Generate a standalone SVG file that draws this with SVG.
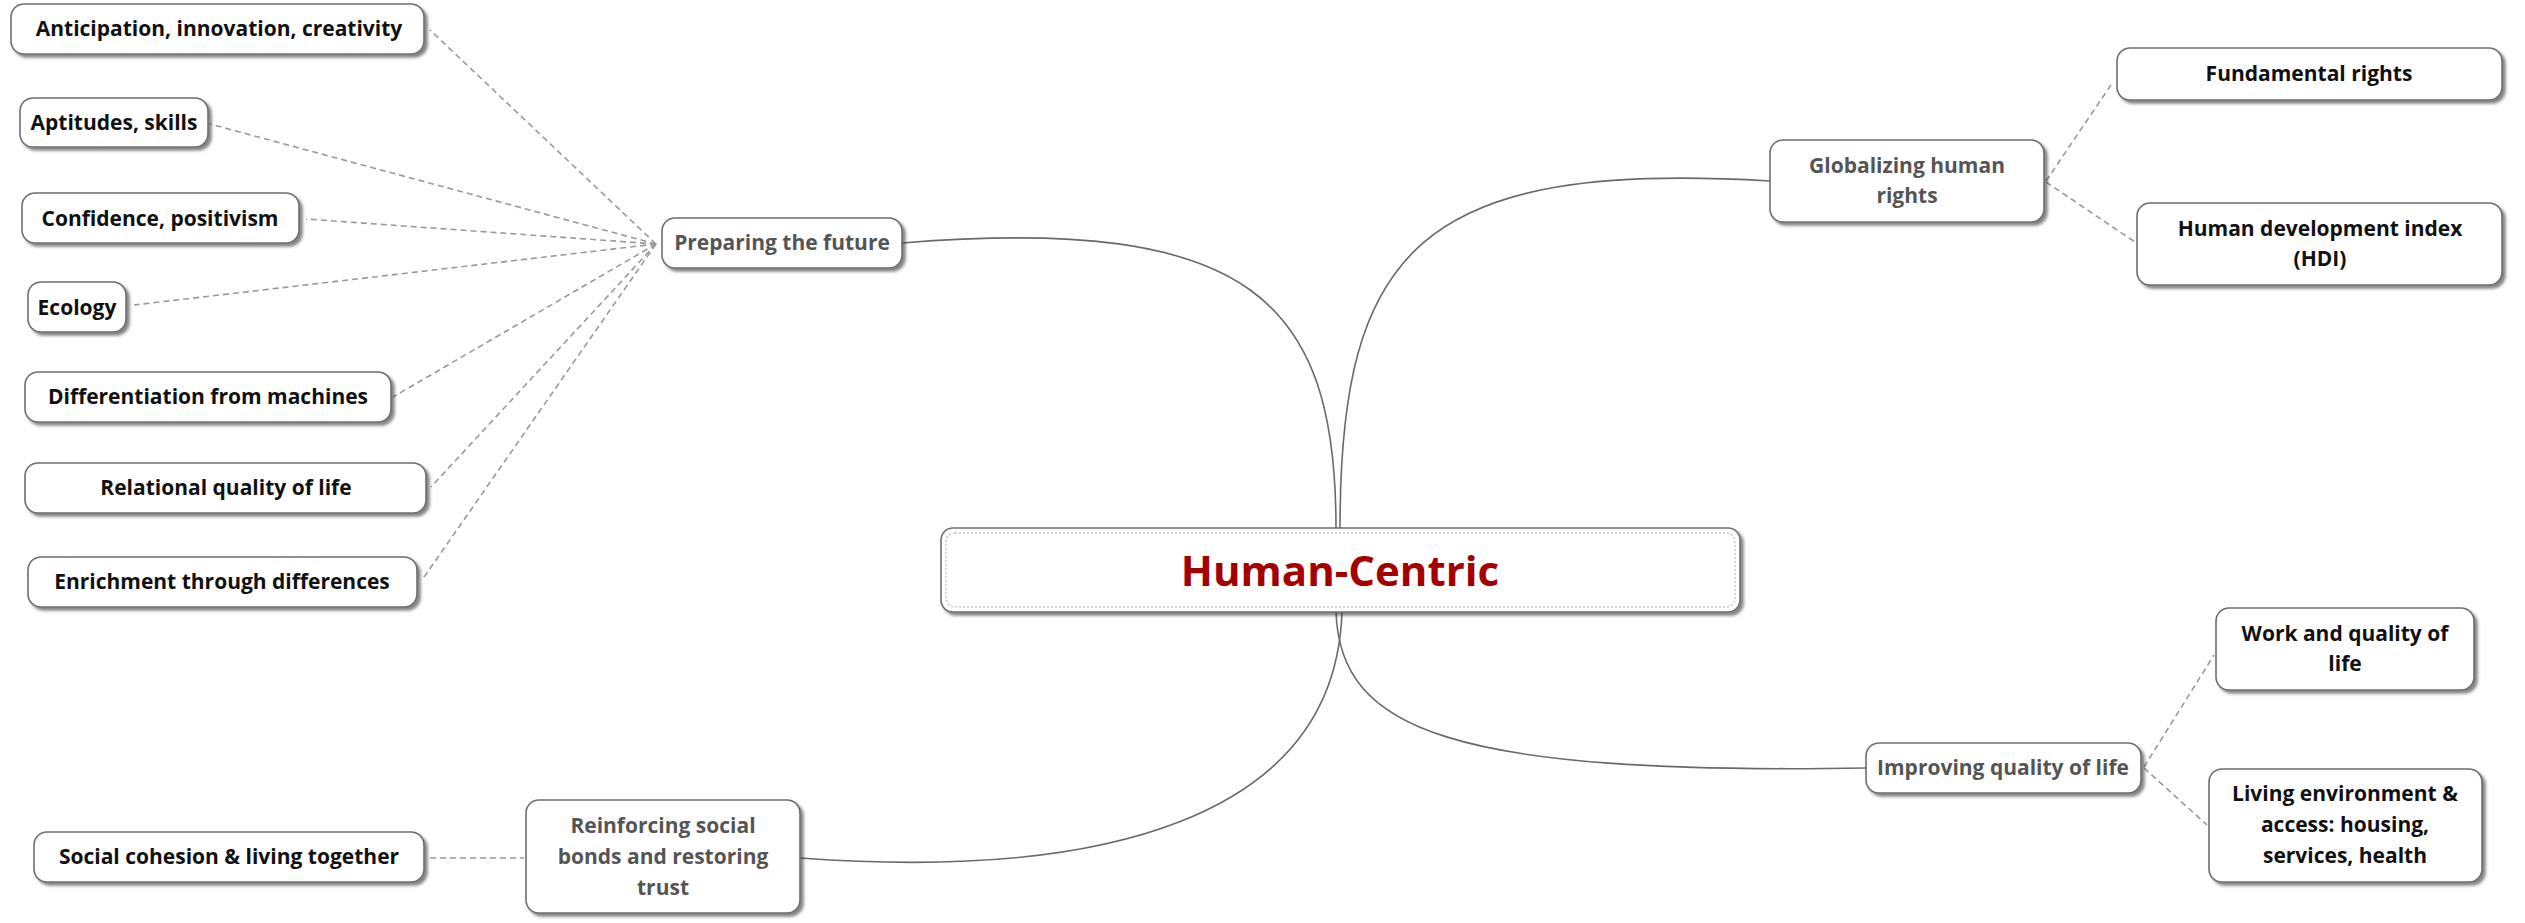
<svg xmlns="http://www.w3.org/2000/svg" width="2525" height="923" viewBox="0 0 2525 923">
<defs>
<filter id="sh" x="-10%" y="-20%" width="120%" height="150%">
<feDropShadow dx="3" dy="3" stdDeviation="1.5" flood-color="#333" flood-opacity="0.6"/>
</filter>
<style>
.box{fill:#fff;stroke:#6e6e6e;stroke-width:1.6;filter:url(#sh)}
.t{font-family:"Open Sans","Noto Sans","DejaVu Sans",sans-serif;font-weight:bold;font-size:21px;text-anchor:middle}
.leaf{fill:#111}
.mid{fill:#555}
.main{fill:none;stroke:#6a6a6a;stroke-width:1.6}
.dash{fill:none;stroke:#999;stroke-width:1.6;stroke-dasharray:6 4}
</style>
</defs>
<rect width="2525" height="923" fill="#fff"/>
<g id="connectors">
<path class="main" d="M902 243 C1250 215 1336 300 1336 528"/>
<path class="main" d="M1340 528 C1340 250 1420 160 1770 181"/>
<path class="main" d="M1336 612 C1340 730 1450 775 1866 768"/>
<path class="main" d="M1342 612 C1335 820 1100 880 800 858"/>
<path class="dash" d="M656 244 L430 30"/>
<path class="dash" d="M656 244 L210 124"/>
<path class="dash" d="M656 244 L306 219"/>
<path class="dash" d="M656 244 L134 305"/>
<path class="dash" d="M656 244 L393 397"/>
<path class="dash" d="M656 244 L431 487"/>
<path class="dash" d="M656 244 L422 580"/>
<path class="dash" d="M2046 181 L2113 82"/>
<path class="dash" d="M2046 182 L2135 242"/>
<path class="dash" d="M2144 767 L2214 655"/>
<path class="dash" d="M2144 768 L2207 825"/>
<path class="dash" d="M430 858 L524 858"/>
</g>
<g id="n-anticipation"><rect class="box" x="11" y="4" width="413" height="50" rx="13"/><text class="t leaf" x="219" y="36">Anticipation, innovation, creativity</text></g>
<g id="n-aptitudes"><rect class="box" x="20" y="98" width="188" height="49" rx="13"/><text class="t leaf" x="114" y="130">Aptitudes, skills</text></g>
<g id="n-confidence"><rect class="box" x="22" y="193" width="277" height="50" rx="13"/><text class="t leaf" x="160" y="226">Confidence, positivism</text></g>
<g id="n-ecology"><rect class="box" x="28" y="282" width="98" height="50" rx="13"/><text class="t leaf" x="77" y="315">Ecology</text></g>
<g id="n-differentiation"><rect class="box" x="25" y="372" width="366" height="50" rx="13"/><text class="t leaf" x="208" y="404">Differentiation from machines</text></g>
<g id="n-relational"><rect class="box" x="25" y="463" width="401" height="50" rx="13"/><text class="t leaf" x="226" y="495">Relational quality of life</text></g>
<g id="n-enrichment"><rect class="box" x="28" y="557" width="389" height="50" rx="13"/><text class="t leaf" x="222" y="589">Enrichment through differences</text></g>
<g id="n-preparing"><rect class="box" x="662" y="218" width="240" height="50" rx="13"/><text class="t mid" x="782" y="250">Preparing the future</text></g>
<g id="n-center"><rect class="box" x="941" y="528" width="799" height="84" rx="12" stroke-width="2"/><rect x="946" y="533" width="789" height="74" rx="9" fill="none" stroke="#c8c8c8" stroke-width="1.5" stroke-dasharray="2 2"/><text class="t" x="1340" y="586" style="font-size:42px;fill:#a50000">Human-Centric</text></g>
<g id="n-globalizing"><rect class="box" x="1770" y="140" width="274" height="82" rx="13"/><text class="t mid" x="1907" y="173">Globalizing human</text><text class="t mid" x="1907" y="203">rights</text></g>
<g id="n-fundamental"><rect class="box" x="2117" y="48" width="385" height="52" rx="13"/><text class="t leaf" x="2309" y="81">Fundamental rights</text></g>
<g id="n-hdi"><rect class="box" x="2137" y="203" width="365" height="82" rx="13"/><text class="t leaf" x="2320" y="236">Human development index</text><text class="t leaf" x="2320" y="266">(HDI)</text></g>
<g id="n-work"><rect class="box" x="2216" y="608" width="258" height="82" rx="13"/><text class="t leaf" x="2345" y="641">Work and quality of</text><text class="t leaf" x="2345" y="671">life</text></g>
<g id="n-improving"><rect class="box" x="1866" y="743" width="275" height="50" rx="13"/><text class="t mid" x="2003" y="775">Improving quality of life</text></g>
<g id="n-living"><rect class="box" x="2209" y="769" width="273" height="113" rx="13"/><text class="t leaf" x="2345" y="801">Living environment &amp;</text><text class="t leaf" x="2345" y="832">access: housing,</text><text class="t leaf" x="2345" y="863">services, health</text></g>
<g id="n-reinforcing"><rect class="box" x="526" y="800" width="274" height="113" rx="13"/><text class="t mid" x="663" y="833">Reinforcing social</text><text class="t mid" x="663" y="864">bonds and restoring</text><text class="t mid" x="663" y="895">trust</text></g>
<g id="n-social"><rect class="box" x="34" y="832" width="390" height="50" rx="13"/><text class="t leaf" x="229" y="864">Social cohesion &amp; living together</text></g>
</svg>
